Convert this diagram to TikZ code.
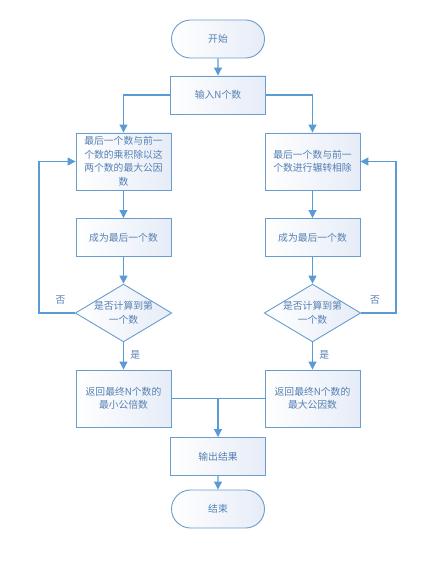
\documentclass[tikz,border=0pt]{standalone}
\usepackage{fontspec}
\setmainfont{Noto Sans CJK SC}
\usetikzlibrary{arrows.meta,shapes.geometric,shapes.misc}
\definecolor{lineblue}{HTML}{5B9BD5}
\definecolor{edgeblue}{HTML}{6A9CCD}
\definecolor{txtblue}{HTML}{5580B2}
\definecolor{fillend}{HTML}{E6ECF7}
\tikzset{
  base/.style={draw=edgeblue, line width=0.9pt, left color=white, right color=fillend,
    text=txtblue, font=\fontsize{9.8}{13.5}\selectfont, align=center, inner sep=1pt},
  procbox/.style={base, rectangle, minimum width=95pt, minimum height=38pt},
  tallbox/.style={base, rectangle, minimum width=95pt, minimum height=57pt},
  term/.style={base, rounded rectangle, minimum width=95pt, minimum height=38pt},
  decision/.style={base, diamond, aspect=1.67, minimum width=95pt, minimum height=57pt, inner sep=0pt},
  conn/.style={draw=lineblue, line width=1.1pt, -{Triangle[width=8pt,length=8pt]}},
  plain/.style={draw=lineblue, line width=1.1pt},
  lbl/.style={text=txtblue, font=\fontsize{9.8}{11}\selectfont}
}
\begin{document}
\begin{tikzpicture}[x=1pt,y=-1pt]
\useasboundingbox (0,0) rectangle (431,561);
\node[term] (start) at (218,39) {开始};
\node[procbox] (input) at (218,95) {输入N个数};
\node[tallbox] (l1) at (123.5,161.5) {最后一个数与前一\\个数的乘积除以这\\两个数的最大公因\\数};
\node[tallbox] (r1) at (312.5,161.5) {最后一个数与前一\\个数进行辗转相除};
\node[procbox] (l2) at (123.5,237.5) {成为最后一个数};
\node[procbox] (r2) at (312.5,237.5) {成为最后一个数};
\node[decision] (ld) at (123.5,313) {是否计算到第\\一个数};
\node[decision] (rd) at (312.5,313) {是否计算到第\\一个数};
\node[tallbox] (l3) at (123.5,398.5) {返回最终N个数的\\最小公倍数};
\node[tallbox] (r3) at (312.5,398.5) {返回最终N个数的\\最大公因数};
\node[procbox] (out) at (218,456.5) {输出结果};
\node[term] (end) at (218,509) {结束};
\coordinate (lb) at (39,0);
\coordinate (rb) at (396,0);
\coordinate (mj) at (218,398.5);

\draw[conn] (start) -- (input);
\draw[conn] (input.west) -| (l1.north);
\draw[conn] (input.east) -| (r1.north);
\draw[conn] (l1) -- (l2);
\draw[conn] (r1) -- (r2);
\draw[conn] (l2) -- (ld);
\draw[conn] (r2) -- (rd);
\draw[conn] (ld) -- node[lbl, right=3pt, pos=0.45] {是} (l3);
\draw[conn] (rd) -- node[lbl, right=3pt, pos=0.45] {是} (r3);
\draw[conn] (ld.west) -- (ld.west -| lb) node[lbl, pos=0.4, above=5pt] {否} |- (l1.west);
\draw[conn] (rd.east) -- (rd.east -| rb) node[lbl, pos=0.4, above=5pt] {否} |- (r1.east);
\draw[plain] (l3.east) -- (r3.west);
\draw[conn] (mj) -- (out);
\draw[conn] (out) -- (end);
\end{tikzpicture}
\end{document}
